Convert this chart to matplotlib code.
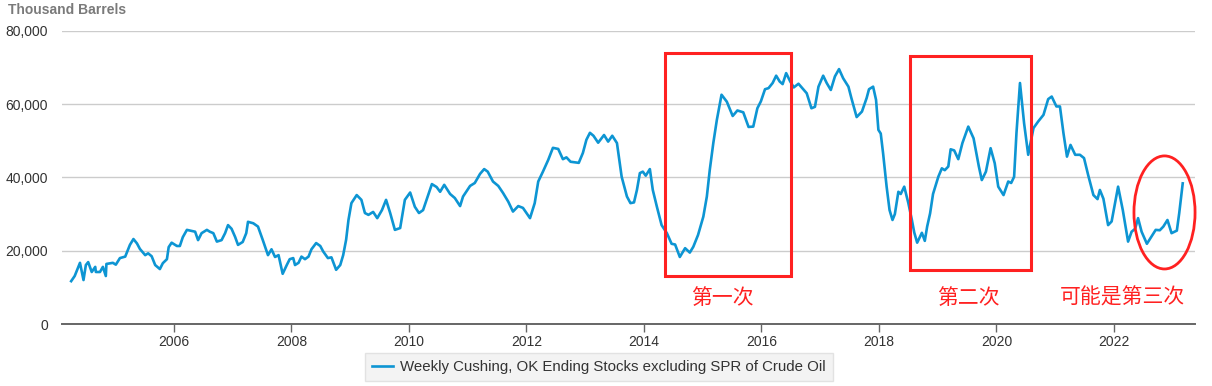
import matplotlib
matplotlib.use("Agg")
import matplotlib.pyplot as plt
from matplotlib.patches import Rectangle, Ellipse
from matplotlib.ticker import FuncFormatter

# Weekly Cushing, OK ending stocks excl. SPR (thousand barrels)
years = [
    2004.25, 2004.31, 2004.40, 2004.46, 2004.50, 2004.54, 2004.60, 2004.66, 2004.67, 2004.74,
    2004.79, 2004.84, 2004.85, 2004.96, 2005.01, 2005.08, 2005.17, 2005.25, 2005.31, 2005.37,
    2005.42, 2005.51, 2005.56, 2005.62, 2005.68, 2005.76, 2005.81, 2005.88, 2005.91, 2005.96,
    2006.05, 2006.10, 2006.15, 2006.22, 2006.30, 2006.36, 2006.41, 2006.47, 2006.56, 2006.61,
    2006.67, 2006.73, 2006.81, 2006.87, 2006.92, 2006.98, 2007.04, 2007.09, 2007.17, 2007.23,
    2007.26, 2007.35, 2007.43, 2007.51, 2007.60, 2007.66, 2007.72, 2007.78, 2007.85, 2007.92,
    2007.97, 2008.03, 2008.06, 2008.12, 2008.17, 2008.23, 2008.29, 2008.34, 2008.42, 2008.49,
    2008.54, 2008.62, 2008.68, 2008.76, 2008.83, 2008.88, 2008.93, 2008.97, 2009.02, 2009.11,
    2009.19, 2009.25, 2009.31, 2009.39, 2009.46, 2009.54, 2009.61, 2009.68, 2009.76, 2009.85,
    2009.93, 2010.02, 2010.10, 2010.17, 2010.24, 2010.39, 2010.47, 2010.53, 2010.60, 2010.70,
    2010.78, 2010.87, 2010.92, 2011.04, 2011.12, 2011.21, 2011.28, 2011.34, 2011.43, 2011.52,
    2011.60, 2011.69, 2011.77, 2011.86, 2011.94, 2012.06, 2012.14, 2012.20, 2012.28, 2012.37,
    2012.45, 2012.54, 2012.62, 2012.68, 2012.75, 2012.85, 2012.89, 2012.96, 2013.02, 2013.08,
    2013.14, 2013.22, 2013.32, 2013.39, 2013.46, 2013.54, 2013.62, 2013.71, 2013.77, 2013.83,
    2013.88, 2013.93, 2013.98, 2014.03, 2014.10, 2014.15, 2014.22, 2014.30, 2014.39, 2014.47,
    2014.53, 2014.61, 2014.70, 2014.78, 2014.84, 2014.92, 2015.01, 2015.07, 2015.12, 2015.18,
    2015.24, 2015.32, 2015.41, 2015.51, 2015.59, 2015.69, 2015.78, 2015.86, 2015.93, 2015.99,
    2016.06, 2016.12, 2016.19, 2016.25, 2016.31, 2016.36, 2016.42, 2016.49, 2016.55, 2016.63,
    2016.71, 2016.77, 2016.85, 2016.91, 2016.97, 2017.05, 2017.11, 2017.18, 2017.25, 2017.32,
    2017.39, 2017.48, 2017.53, 2017.62, 2017.71, 2017.79, 2017.83, 2017.90, 2017.95, 2017.99,
    2018.03, 2018.07, 2018.13, 2018.18, 2018.23, 2018.27, 2018.33, 2018.37, 2018.43, 2018.50,
    2018.56, 2018.60, 2018.65, 2018.73, 2018.78, 2018.82, 2018.87, 2018.92, 2019.01, 2019.07,
    2019.12, 2019.18, 2019.22, 2019.28, 2019.35, 2019.42, 2019.52, 2019.61, 2019.70, 2019.75,
    2019.82, 2019.90, 2019.97, 2020.03, 2020.12, 2020.20, 2020.25, 2020.30, 2020.34, 2020.40,
    2020.47, 2020.54, 2020.63, 2020.71, 2020.80, 2020.88, 2020.94, 2021.02, 2021.08, 2021.14,
    2021.20, 2021.26, 2021.34, 2021.42, 2021.49, 2021.56, 2021.65, 2021.72, 2021.76, 2021.82,
    2021.90, 2021.96, 2022.07, 2022.15, 2022.24, 2022.30, 2022.36, 2022.41, 2022.47, 2022.56,
    2022.62, 2022.71, 2022.78, 2022.84, 2022.91, 2022.98, 2023.07, 2023.11, 2023.17,
]
stocks = [
    11700, 13100, 16700, 12000, 16100, 16900, 14200, 15600, 14200, 14200,
    15600, 13100, 16400, 16700, 16200, 18000, 18400, 21600, 23200, 22000,
    20500, 18800, 19300, 18500, 16100, 15000, 16600, 17700, 21000, 22200,
    21300, 21300, 23700, 25700, 25400, 25200, 22900, 24800, 25700, 25200,
    24800, 22500, 22900, 24800, 27000, 26000, 23800, 21600, 22400, 24800,
    27900, 27500, 26600, 23000, 18800, 20400, 18300, 18800, 13700, 16100,
    17700, 18000, 16100, 16700, 18400, 17700, 18400, 20400, 22100, 21300,
    19800, 18000, 18200, 14800, 16100, 18800, 23000, 28400, 33000, 35200,
    33900, 30300, 29800, 30600, 28900, 31100, 33900, 30300, 25700, 26200,
    33900, 35900, 32000, 30300, 31100, 38200, 37400, 36100, 38000, 35500,
    34400, 32200, 34800, 37700, 38500, 41000, 42300, 41600, 38900, 37700,
    35800, 33400, 30700, 32200, 31700, 28900, 33000, 38900, 41600, 44800,
    48100, 47800, 45000, 45500, 44300, 44100, 44000, 46700, 50300, 52200,
    51400, 49500, 51600, 49800, 51400, 49400, 40200, 34800, 33000, 33200,
    36600, 41200, 41600, 40500, 42300, 36600, 32000, 27000, 24800, 21900,
    21700, 18300, 20700, 19500, 21100, 24300, 29300, 34800, 42100, 49400,
    55700, 62600, 60700, 56800, 58300, 57800, 53800, 53900, 58900, 60800,
    64100, 64400, 65800, 67800, 66200, 65500, 68500, 66200, 64600, 65600,
    64100, 63000, 58900, 59300, 64800, 67800, 65800, 63900, 67600, 69600,
    67100, 64800, 61700, 56500, 58000, 61700, 64100, 64800, 61200, 53000,
    52000, 46600, 37500, 31100, 28400, 30000, 36100, 35500, 37500, 33000,
    28400, 25000, 22200, 24900, 22700, 26600, 30200, 35500, 40200, 42500,
    42000, 43000, 47700, 47400, 45000, 49400, 53900, 50700, 43000, 39300,
    41600, 48000, 43900, 37500, 35200, 38900, 38500, 40200, 52100, 65800,
    54800, 46200, 53500, 55300, 57100, 61400, 62100, 59400, 59400, 52100,
    45700, 48900, 46200, 46200, 45300, 40700, 35200, 34100, 36600, 34200,
    27000, 28000, 37500, 31100, 22500, 25200, 26000, 28900, 25200, 21900,
    23400, 25700, 25600, 26600, 28400, 24800, 25500, 30200, 38400,
]

x_ticks = [2006, 2008, 2010, 2012, 2014, 2016, 2018, 2020, 2022]
y_ticks = [0, 20000, 40000, 60000, 80000]

# red hand-drawn annotations: (x0, x1, y0, y1) boxes, labels
boxes = [(2014.36, 2016.50, 13100, 74000), (2018.53, 2020.59, 14750, 73200)]
labels = ["第一次", "第二次", "可能是第三次"]
label_x = [2015.33, 2019.53, 2022.15]

line_color = "#0d95d3"
red = "#ff2121"

plt.rcParams['font.family'] = ['Liberation Sans', 'DejaVu Sans']

fig = plt.figure(figsize=(12.12, 3.86), dpi=100)
ax = fig.add_axes([62 / 1212, 1 - 324 / 386, (1195 - 62) / 1212, (324 - 31) / 386])

ax.plot(years, stocks, color=line_color, lw=1.9,
        label="Weekly Cushing, OK Ending Stocks excluding SPR of Crude Oil")

ax.set_xlim(2004.094, 2023.379)
ax.set_ylim(0, 80000)
ax.set_xticks(x_ticks)
ax.set_xticklabels([str(t) for t in x_ticks])
ax.set_yticks(y_ticks)
ax.yaxis.set_major_formatter(FuncFormatter(lambda v, p: f"{int(v):,}"))

ax.grid(axis='y', color='#cccccc', lw=1)
ax.set_axisbelow(True)
for s in ['top', 'right', 'left']:
    ax.spines[s].set_visible(False)
ax.spines['bottom'].set_color('#666666')
ax.spines['bottom'].set_linewidth(1.4)
ax.tick_params(axis='x', length=6, width=1, color='#666666', labelsize=10,
               labelcolor='#333333', pad=2)
ax.tick_params(axis='y', length=0, labelsize=10, labelcolor='#333333', pad=10)

fig.text(8 / 1212, 1 - 10 / 386, "Thousand Barrels", fontsize=10, fontweight='bold',
         color='#7a7a7a', va='center', ha='left')

# annotations
for x0, x1, y0, y1 in boxes:
    ax.add_patch(Rectangle((x0, y0), x1 - x0, y1 - y0, fill=False, ec=red, lw=2.2,
                           clip_on=False, zorder=5))
ax.add_patch(Ellipse((2022.86, 30460), 1.04, 30870, fill=False, ec=red, lw=2.0,
                     clip_on=False, zorder=5))
for lx, txt in zip(label_x, labels):
    ax.text(lx, 7100, txt, color=red, fontsize=15, ha='center', va='center',
            family=['Noto Sans CJK SC', 'DejaVu Sans'])

leg = fig.legend(loc='center', bbox_to_anchor=(599 / 1212, 1 - 367 / 386),
                 frameon=True, fancybox=False, fontsize=10.8, handlelength=1.4,
                 handletextpad=0.5, borderpad=0.45)
leg.get_frame().set_facecolor('#f0f0f0')
leg.get_frame().set_edgecolor('#dddddd')
for t in leg.get_texts():
    t.set_color('#333333')

fig.savefig("out.png", dpi=100)
